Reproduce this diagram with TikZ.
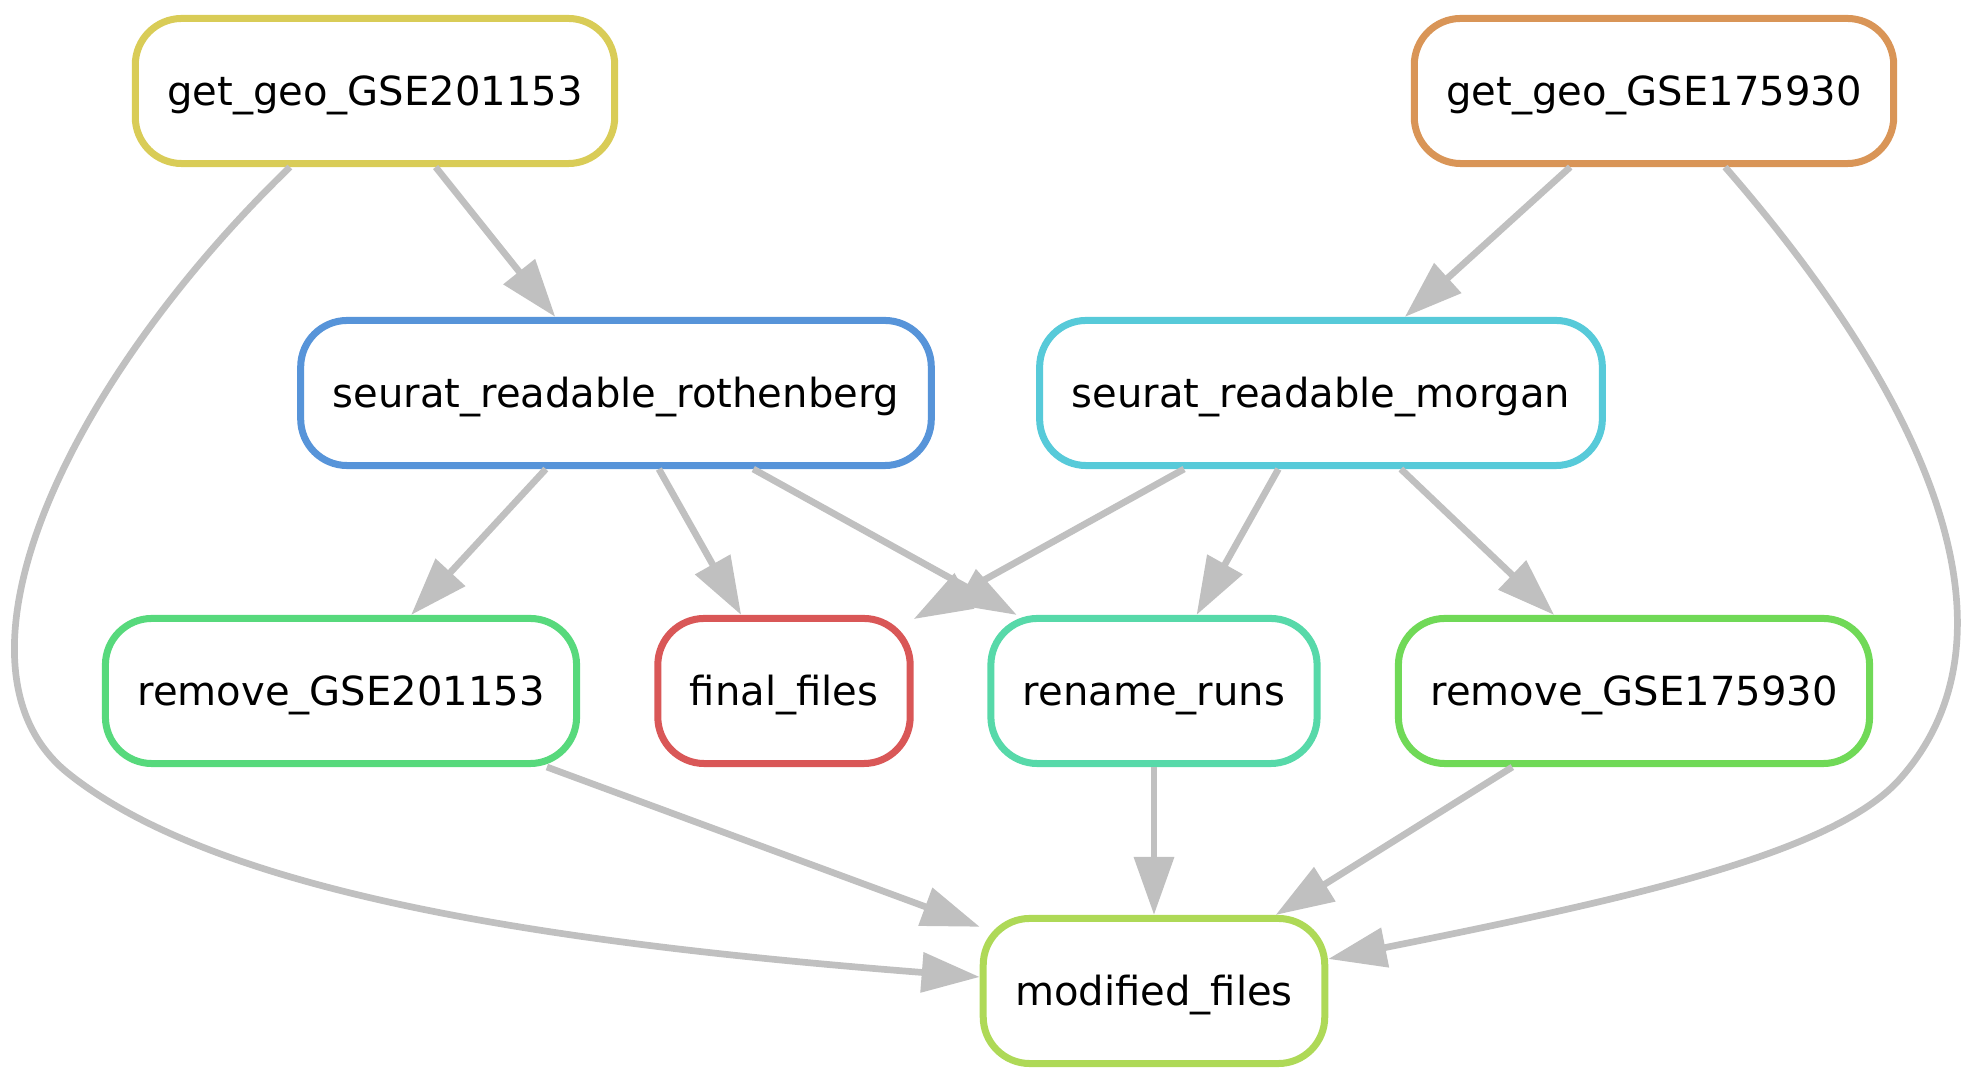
\documentclass[tikz,border=0pt]{standalone}
\usepackage{fontspec}
\setmainfont{DejaVu Sans}
\usepackage{xcolor}
\usepackage{tikz}
\usetikzlibrary{arrows.meta}
\definecolor{edgegray}{RGB}{192,192,192}
\definecolor{geoAcolor}{RGB}{217,204,87}
\definecolor{geoBcolor}{RGB}{217,149,87}
\definecolor{rothencolor}{RGB}{87,148,217}
\definecolor{morgancolor}{RGB}{87,202,217}
\definecolor{rmAcolor}{RGB}{87,217,124}
\definecolor{finalcolor}{RGB}{217,87,87}
\definecolor{renamecolor}{RGB}{87,217,169}
\definecolor{rmBcolor}{RGB}{112,217,87}
\definecolor{modcolor}{RGB}{174,217,87}

\begin{document}
\begin{tikzpicture}[x=0.01cm, y=-0.01cm,
	rulebox/.style={draw=#1, fill=white, line width=0.07cm, rounded corners=0.465cm,
		minimum height=1.45cm, inner xsep=0.32cm, text height=0.29cm, text depth=0cm,
		font=\fontsize{11.4}{13}\selectfont},
	dep/.style={->, draw=edgegray, line width=0.067cm},
	>={Triangle[length=0.58cm, width=0.39cm]}]
	\useasboundingbox (0,0) rectangle (1974,1083);

	\node (geoA) at (375,91) [rulebox=geoAcolor] {get\_geo\_GSE201153};
	\node (geoB) at (1654,91) [rulebox=geoBcolor] {get\_geo\_GSE175930};
	\node (rothen) at (616,393) [rulebox=rothencolor] {seurat\_readable\_rothenberg};
	\node (morgan) at (1321,393) [rulebox=morgancolor] {seurat\_readable\_morgan};
	\node (rmA) at (341,691) [rulebox=rmAcolor] {remove\_GSE201153};
	\node (final) at (784,691) [rulebox=finalcolor] {final\_files};
	\node (rename) at (1154,691) [rulebox=renamecolor] {rename\_runs};
	\node (rmB) at (1634,691) [rulebox=rmBcolor] {remove\_GSE175930};
	\node (modified) at (1154,991) [rulebox=modcolor] {modified\_files};

	\draw[dep] (geoA) -- (rothen);
	\draw[dep] (geoB) -- (morgan);
	\draw[dep] (rothen) -- (rmA);
	\draw[dep] (rothen) -- (final);
	\draw[dep] (rothen) -- (rename);
	\draw[dep] (morgan) -- (final);
	\draw[dep] (morgan) -- (rename);
	\draw[dep] (morgan) -- (rmB);
	\draw[dep] (rmA) -- (modified);
	\draw[dep] (rename) -- (modified);
	\draw[dep] (rmB) -- (modified);

	% long edges round the sides
	\draw[dep] ([xshift=-0.85cm]geoA.south) .. controls (60,390) and (-64,669) .. (69,774)
		.. controls (225,898) and (574,945) .. ([yshift=0.14cm]modified.west);
	\draw[dep] ([xshift=0.71cm]geoB.south) .. controls (1936,409) and (2026,639) .. (1899,780)
		.. controls (1832,854) and (1627,899) .. ([yshift=0.32cm]modified.east);

\end{tikzpicture}
\end{document}
